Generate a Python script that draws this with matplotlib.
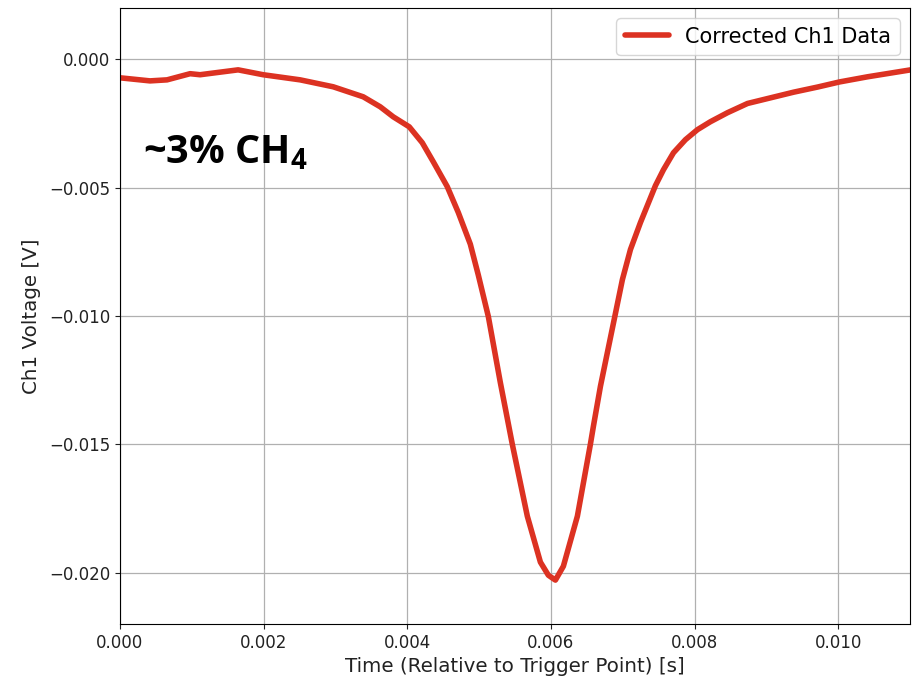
import matplotlib
matplotlib.use("Agg")
import matplotlib.pyplot as plt

time_s = [0.0, 0.000418, 0.000655, 0.000976, 0.001115, 0.001645, 0.001993, 0.002509,
          0.002969, 0.003387, 0.003624, 0.003805, 0.004028, 0.004209, 0.004362, 0.004557,
          0.004711, 0.004878, 0.004989, 0.005129, 0.005296, 0.005463, 0.005672, 0.005854,
          0.005965, 0.006063, 0.006174, 0.006369, 0.006550, 0.006592, 0.006690, 0.006787,
          0.006899, 0.006996, 0.007108, 0.007247, 0.007456, 0.007568, 0.007707, 0.007874,
          0.008041, 0.008222, 0.008459, 0.008738, 0.009059, 0.009380, 0.009714, 0.010021,
          0.010411, 0.011010]
voltage_v = [-0.00072, -0.00084, -0.00080, -0.00056, -0.00060, -0.00041, -0.00060, -0.00080,
             -0.00107, -0.00146, -0.00185, -0.00224, -0.00263, -0.00325, -0.00399, -0.00496,
             -0.00597, -0.00720, -0.00840, -0.01002, -0.01259, -0.01500, -0.01780, -0.01959,
             -0.02010, -0.02029, -0.01975, -0.01780, -0.01500, -0.01430, -0.01274, -0.01142,
             -0.00990, -0.00858, -0.00741, -0.00636, -0.00492, -0.00430, -0.00364, -0.00313,
             -0.00274, -0.00243, -0.00208, -0.00172, -0.00150, -0.00128, -0.00108, -0.00088,
             -0.00068, -0.00041]

series_label = "Corrected Ch1 Data"
annotation = r"~3% CH$_\mathbf{4}$"

plt.rcParams['mathtext.fontset'] = 'custom'
plt.rcParams['mathtext.bf'] = 'Open Sans:bold'
plt.rcParams['mathtext.rm'] = 'Open Sans:bold'

fig = plt.figure(figsize=(9.16, 6.83), dpi=100)
ax = fig.add_axes([0.131, 0.0864, 0.8624, 0.9019])
ax.plot(time_s, voltage_v, color='#dc3222', lw=4, label=series_label,
        solid_joinstyle='round', solid_capstyle='round')
ax.set_xlim(0, 0.011)
ax.set_ylim(-0.022, 0.002)
ax.set_xticks([0.0, 0.002, 0.004, 0.006, 0.008, 0.010])
ax.set_yticks([0.0, -0.005, -0.010, -0.015, -0.020])
ax.xaxis.set_major_formatter(matplotlib.ticker.FormatStrFormatter('%.3f'))
ax.yaxis.set_major_formatter(matplotlib.ticker.FuncFormatter(
    lambda v, p: ('\u2212' if v < -1e-12 else '') + '%.3f' % abs(v)))
ax.tick_params(labelsize=12, colors='#222222')
ax.grid(True, color='#b0b0b0', lw=0.9)
ax.set_xlabel("Time (Relative to Trigger Point) [s]", fontsize=14.3, color='#222222')
ax.set_ylabel("Ch1 Voltage [V]", fontsize=14.3, color='#222222', labelpad=6)
ax.legend(loc='upper right', fontsize=15, handlelength=2.1)
ax.text(0.029, 0.748, annotation, transform=ax.transAxes, fontsize=28.5,
        fontweight='bold', family='Open Sans', color='black')
fig.savefig("out.png", dpi=100)
